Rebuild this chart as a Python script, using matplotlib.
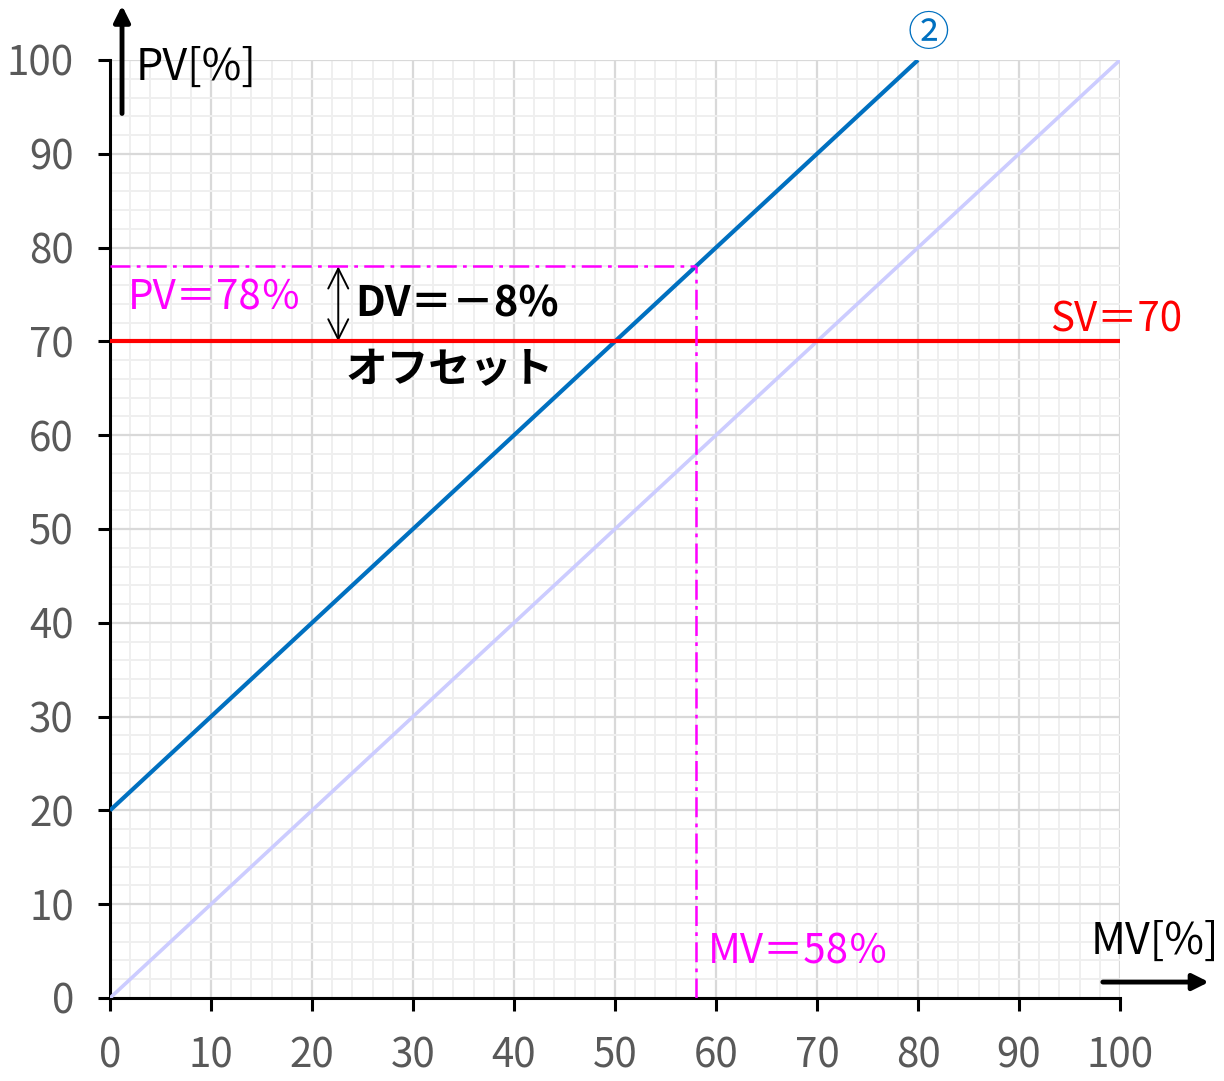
import numpy as np
import matplotlib.pyplot as plt
from matplotlib.ticker import MultipleLocator

plt.rcParams['font.family'] = ['Noto Sans CJK JP', 'DejaVu Sans']

# data
mv = [0, 100]
diag = [0, 100]          # 1:1 reference line
line2_x = [0, 80]
line2_y = [20, 100]      # characteristic line 2
sv = 70
pv_op = 78
mv_op = 58

fig = plt.figure(figsize=(12.24, 10.81), dpi=100)
ax = fig.add_axes([110/1224, 1-998/1081, 1010/1224, 938/1081])

ax.set_xlim(0, 100)
ax.set_ylim(0, 100)
ax.xaxis.set_major_locator(MultipleLocator(10))
ax.yaxis.set_major_locator(MultipleLocator(10))
ax.xaxis.set_minor_locator(MultipleLocator(2))
ax.yaxis.set_minor_locator(MultipleLocator(2))
ax.grid(which='major', color='#d9d9d9', lw=1.6)
ax.grid(which='minor', color='#efefef', lw=1.4)
ax.set_axisbelow(True)
ax.tick_params(which='major', direction='out', length=9, width=2.2,
               labelsize=29, colors='black')
ax.tick_params(axis='x', pad=18)
ax.tick_params(axis='y', pad=17)
ax.tick_params(which='minor', length=0)
for t in ax.get_xticklabels() + ax.get_yticklabels():
    t.set_color('#595959')
for s in ['top', 'right']:
    ax.spines[s].set_visible(False)
for s in ['left', 'bottom']:
    ax.spines[s].set_linewidth(2.2)

dashdot = (0, (8, 2.5, 1.5, 2.5))
ax.plot(mv, diag, color='#ccccff', lw=2.6, solid_capstyle='butt', zorder=3)
ax.plot(line2_x, line2_y, color='#0070c0', lw=3, solid_capstyle='butt', zorder=4)
ax.plot(mv, [sv, sv], color='#ff0000', lw=3, solid_capstyle='butt', zorder=4)
ax.plot([0, mv_op], [pv_op, pv_op], color='#ff00ff', lw=1.8, ls=dashdot, zorder=5)
ax.plot([mv_op, mv_op], [0, pv_op], color='#ff00ff', lw=1.8, ls=dashdot, zorder=5)

# double arrow for deviation
ax.annotate('', xy=(22.6, sv), xytext=(22.6, pv_op),
            arrowprops=dict(arrowstyle='<->', color='black', lw=1.4,
                            mutation_scale=36, shrinkA=0, shrinkB=0))

ax.text(1.8, 74.6, 'PV＝78％', color='#ff00ff', fontsize=29, va='center', ha='left')
ax.text(106.2, 72.3, 'SV＝70', color='#ff0000', fontsize=29, va='center', ha='right')
ax.text(59.2, 4.9, 'MV＝58％', color='#ff00ff', fontsize=29, va='center', ha='left')
ax.text(24.3, 73.9, 'DV＝－8%', color='black', fontsize=30, fontweight='bold',
        va='center', ha='left')
ax.text(23.3, 66.9, 'オフセット', color='black', fontsize=30, fontweight='bold',
        va='center', ha='left')
ax.text(81, 102.7, '②', color='#0070c0', fontsize=30, va='center', ha='center',
        clip_on=False)

# axis labels with arrows
ax.annotate('', xy=(1.19, 105.8), xytext=(1.19, 94.3), annotation_clip=False,
            arrowprops=dict(arrowstyle='-|>', color='black', lw=3.5,
                            mutation_scale=24, shrinkA=0, shrinkB=0))
ax.text(2.5, 99.2, 'PV[%]', color='black', fontsize=31, va='center', ha='left',
        clip_on=False)
ax.annotate('', xy=(108.8, 1.7), xytext=(98.3, 1.7), annotation_clip=False,
            arrowprops=dict(arrowstyle='-|>', color='black', lw=3.5,
                            mutation_scale=24, shrinkA=0, shrinkB=0))
ax.text(109.8, 6.0, 'MV[%]', color='black', fontsize=31, va='center', ha='right',
        clip_on=False)

fig.savefig('out.png', dpi=100)
